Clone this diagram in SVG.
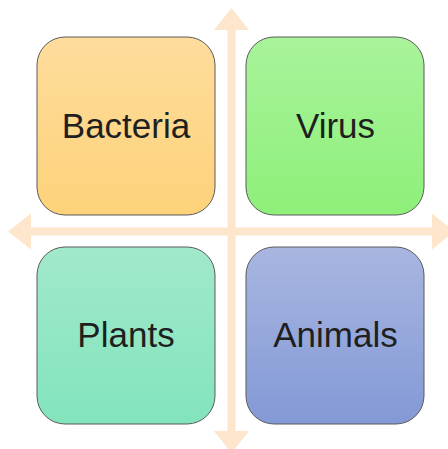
<svg xmlns="http://www.w3.org/2000/svg" width="448" height="449" viewBox="0 0 448 449">
<defs>
<linearGradient id="gB" x1="0" y1="0" x2="0" y2="1"><stop offset="0" stop-color="#FEDC9C"/><stop offset="1" stop-color="#FDD27A"/></linearGradient>
<linearGradient id="gV" x1="0" y1="0" x2="0" y2="1"><stop offset="0" stop-color="#A9F39B"/><stop offset="1" stop-color="#8DF079"/></linearGradient>
<linearGradient id="gP" x1="0" y1="0" x2="0" y2="1"><stop offset="0" stop-color="#A1E9CB"/><stop offset="1" stop-color="#82E4BC"/></linearGradient>
<linearGradient id="gA" x1="0" y1="0" x2="0" y2="1"><stop offset="0" stop-color="#A8B6E0"/><stop offset="1" stop-color="#8399D6"/></linearGradient>
</defs>
<style>
.box{stroke:#5a5a5a;stroke-width:1}
.lbl{font-family:"Liberation Sans",Arial,sans-serif;font-size:35px;fill:#1f1f1f;text-anchor:middle}
.arr{fill:#FDE6CC}
</style>
<g id="connectors">
<polygon class="arr" points="231.5,8 249,30 235.5,30 235.5,431 249,431 231.5,453 214,431 227.5,431 227.5,30 214,30"/>
<polygon class="arr" points="8,231.5 31,213.5 31,227.5 432,227.5 432,213.5 454,231.5 432,249.5 432,235.5 31,235.5 31,249.5"/>
</g>
<g id="bacteria"><rect class="box" x="37" y="37" width="178" height="178" rx="28" fill="url(#gB)"/><text class="lbl" x="126" y="138">Bacteria</text></g>
<g id="virus"><rect class="box" x="246" y="37" width="178" height="178" rx="28" fill="url(#gV)"/><text class="lbl" x="335.5" y="138">Virus</text></g>
<g id="plants"><rect class="box" x="37" y="247" width="178" height="177" rx="28" fill="url(#gP)"/><text class="lbl" x="126" y="347">Plants</text></g>
<g id="animals"><rect class="box" x="246" y="247" width="178" height="177" rx="28" fill="url(#gA)"/><text class="lbl" x="335.5" y="347">Animals</text></g>
</svg>
